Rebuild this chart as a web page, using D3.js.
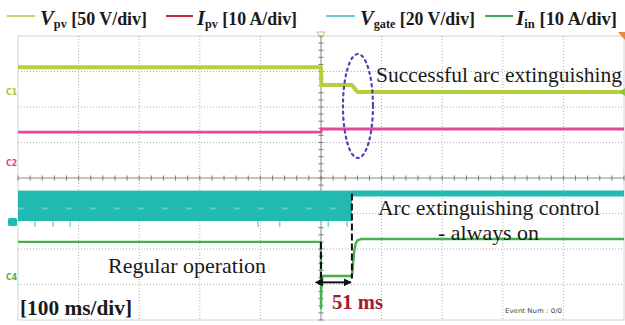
<!DOCTYPE html>
<html>
<head>
<meta charset="utf-8">
<script src="https://cdn.jsdelivr.net/npm/d3@7/dist/d3.min.js"></script>
<style>
  html, body { margin: 0; padding: 0; background: #fff; }
  svg { display: block; }
  .serif { font-family: "Liberation Serif", "Times New Roman", serif; }
</style>
</head>
<body>
<svg id="scope" width="625" height="325"></svg>
<script>
// ---- Channel records (time in ms, trigger at 0) ----
const legendSymbols = ["V", "I", "V", "I"];
const legendSubs = ["pv", "pv", "gate", "in"];
const legendScales = ["[50 V/div]", "[10 A/div]", "[20 V/div]", "[10 A/div]"];

// PV voltage, V
const vpvTime = [-500, 0, 0.6, 51, 54, 58, 61, 500];
const vpvValue = [35, 35, 10, 10, 7, 2, 0, 0];

// PV current, A
const ipvTime = [-500, 0, 1, 500];
const ipvValue = [8.7, 8.7, 9.6, 9.6];

// Gate voltage, V: dense PWM until the arc is extinguished, then held high
const gatePwmStart = -500;
const gatePwmEnd = 51;
const gateLow = 0;
const gateHigh = 16;
const gateHoldTime = [51, 500];
const gateHoldValue = [16, 16];
const gateGlitchTimes = [-472, -442, -414, -104, -68, 12, 43];

// Inverter input current, A
const iinTime = [-500, -0.3, 0, 0.6, 2.5, 51, 52, 53.5, 55, 57, 60, 66, 500];
const iinValue = [9.9, 9.9, -8.7, -3, 0.3, 0.3, 1.5, 5, 7.5, 9.3, 10.3, 10.7, 10.7];

// Timing annotation
const extinguishStart = 0;
const extinguishEnd = 51;
const extinguishLabel = "51 ms";

// ---- Scope geometry ----
const svg = d3.select("#scope");
const pL = 18, pR = 624, pT = 36, pB = 320;
const x = d3.scaleLinear().domain([-500, 500]).range([pL, pR]);
const yDiv = d3.scaleLinear().domain([-4, 4]).range([pB, pT]);

// channel ground offsets (div) and scale per division
const ch = {
  vpv:  { offset: 2.42,  perDiv: 50 },
  ipv:  { offset: 0.42,  perDiv: 10 },
  gate: { offset: -1.24, perDiv: 20 },
  iin:  { offset: -2.79, perDiv: 10 }
};
const yOf = (c) => (v) => yDiv(ch[c].offset + v / ch[c].perDiv);

// ---- Graticule ----
const grid = svg.append("g");
grid.append("rect")
  .attr("x", pL).attr("y", pT)
  .attr("width", pR - pL).attr("height", pB - pT)
  .attr("fill", "none").attr("stroke", "#d4d4d4").attr("stroke-width", 1);

d3.range(-400, 500, 100).filter(t => t !== 0).forEach(t => {
  grid.append("line")
    .attr("x1", x(t)).attr("x2", x(t)).attr("y1", pT).attr("y2", pB)
    .attr("stroke", "#b0b0b0").attr("stroke-width", 1).attr("stroke-dasharray", "1,2");
});
d3.range(-3, 4, 1).filter(d => d !== 0).forEach(d => {
  grid.append("line")
    .attr("x1", pL).attr("x2", pR).attr("y1", yDiv(d)).attr("y2", yDiv(d))
    .attr("stroke", "#b0b0b0").attr("stroke-width", 1).attr("stroke-dasharray", "1,2");
});

// centre axes with minor ticks
grid.append("line")
  .attr("x1", pL).attr("x2", pR).attr("y1", yDiv(0)).attr("y2", yDiv(0))
  .attr("stroke", "#8a8a8a").attr("stroke-width", 1);
grid.append("line")
  .attr("x1", x(0)).attr("x2", x(0)).attr("y1", pT).attr("y2", pB)
  .attr("stroke", "#8a8a8a").attr("stroke-width", 1);
d3.range(-500, 501, 20).forEach(t => {
  grid.append("line")
    .attr("x1", x(t)).attr("x2", x(t)).attr("y1", yDiv(0) - 2.5).attr("y2", yDiv(0) + 2.5)
    .attr("stroke", "#7a7a7a").attr("stroke-width", 1);
});
d3.range(-4, 4.01, 0.2).forEach(d => {
  grid.append("line")
    .attr("x1", x(0) - 2.5).attr("x2", x(0) + 2.5).attr("y1", yDiv(d)).attr("y2", yDiv(d))
    .attr("stroke", "#7a7a7a").attr("stroke-width", 1);
});

// ---- Traces ----
const colVpv = "#b3d13c", colIpv = "#e4489a", colGate = "#21b9b2", colIin = "#45b04e";
const lineOf = (c) => d3.line().x(d => x(d[0])).y(d => yOf(c)(d[1]));

// gate PWM block
const yG = yOf("gate");
svg.append("rect")
  .attr("x", x(gatePwmStart)).attr("y", yG(gateHigh) - 3)
  .attr("width", x(gatePwmEnd) - x(gatePwmStart))
  .attr("height", yG(gateLow) - yG(gateHigh) + 2)
  .attr("fill", colGate);
svg.append("line")
  .attr("x1", x(gatePwmStart)).attr("x2", x(gatePwmEnd))
  .attr("y1", yDiv(-0.86)).attr("y2", yDiv(-0.86))
  .attr("stroke", "#ffffff").attr("stroke-opacity", 0.28)
  .attr("stroke-width", 2).attr("stroke-dasharray", "6,18");
gateGlitchTimes.forEach(t => {
  svg.append("line")
    .attr("x1", x(t)).attr("x2", x(t))
    .attr("y1", yG(gateLow) - 1).attr("y2", yG(gateLow) + 5)
    .attr("stroke", "#7fd6d2").attr("stroke-width", 1.5);
});
svg.append("path")
  .datum(d3.zip(gateHoldTime, gateHoldValue))
  .attr("d", lineOf("gate"))
  .attr("fill", "none").attr("stroke", colGate).attr("stroke-width", 6);

svg.append("path")
  .datum(d3.zip(iinTime, iinValue))
  .attr("d", lineOf("iin"))
  .attr("fill", "none").attr("stroke", colIin).attr("stroke-width", 2.4)
  .attr("stroke-linejoin", "round");

svg.append("path")
  .datum(d3.zip(ipvTime, ipvValue))
  .attr("d", lineOf("ipv"))
  .attr("fill", "none").attr("stroke", colIpv).attr("stroke-width", 2.8);

svg.append("path")
  .datum(d3.zip(vpvTime, vpvValue))
  .attr("d", lineOf("vpv"))
  .attr("fill", "none").attr("stroke", colVpv).attr("stroke-width", 4)
  .attr("stroke-linejoin", "round");

// ---- Channel markers on the left ----
const mk = svg.append("g").attr("font-family", "DejaVu Sans, sans-serif")
  .attr("font-size", 8).attr("font-weight", "bold");
[["C1", "vpv", "#9cc43a"], ["C2", "ipv", "#e0408f"], ["C4", "iin", "#4cb050"]].forEach(([lab, c, col]) => {
  mk.append("text").attr("x", 6).attr("y", yOf(c)(0) + 3)
    .attr("fill", col).attr("textLength", 11).attr("lengthAdjust", "spacingAndGlyphs").text(lab);
});
mk.append("rect").attr("x", 8).attr("y", yG(0) - 4).attr("width", 9).attr("height", 8)
  .attr("rx", 1.5).attr("fill", colGate);

// trigger markers
svg.append("path")
  .attr("d", `M${x(0) - 4},${pT - 4} L${x(0) + 4},${pT - 4} L${x(0)},${pT + 3} Z`)
  .attr("fill", "none").attr("stroke", "#b8c47a").attr("stroke-width", 1);
svg.append("path")
  .attr("d", `M${pR - 6},${pT - 4} L${pR + 1},${pT - 4} L${pR + 1},${pT + 4} Z`)
  .attr("fill", "#e8893a");
svg.append("path")
  .attr("d", `M${pR + 1},${yOf("vpv")(0) - 4} L${pR + 1},${yOf("vpv")(0) + 4} L${pR - 5},${yOf("vpv")(0)} Z`)
  .attr("fill", "#8cc43a");

// ---- Annotations ----
// dotted ellipse round the voltage step
svg.append("ellipse")
  .attr("cx", x(61)).attr("cy", 106).attr("rx", 15).attr("ry", 52)
  .attr("fill", "none").attr("stroke", "#5b3fb0").attr("stroke-width", 2.2)
  .attr("stroke-dasharray", "2.2,4").attr("stroke-linecap", "round");

// dashed markers around the extinguishing interval
const yIin = yOf("iin");
svg.append("line")
  .attr("x1", x(extinguishStart)).attr("x2", x(extinguishStart))
  .attr("y1", yIin(9.9)).attr("y2", yIin(-0.4))
  .attr("stroke", "#111").attr("stroke-width", 2).attr("stroke-dasharray", "7,3");
svg.append("line")
  .attr("x1", x(extinguishEnd)).attr("x2", x(extinguishEnd))
  .attr("y1", yG(gateHigh)).attr("y2", yIin(-0.4))
  .attr("stroke", "#111").attr("stroke-width", 2).attr("stroke-dasharray", "7,3");

const defs = svg.append("defs");
["s", "e"].forEach(id => {
  defs.append("marker").attr("id", "arr-" + id)
    .attr("viewBox", "0 0 10 10").attr("refX", id === "e" ? 9 : 1).attr("refY", 5)
    .attr("markerWidth", 4).attr("markerHeight", 4).attr("orient", "auto-start-reverse")
    .attr("markerUnits", "strokeWidth")
    .append("path").attr("d", "M0,0 L10,5 L0,10 Z").attr("fill", "#111");
});
svg.append("line")
  .attr("x1", x(extinguishStart) + 1).attr("x2", x(extinguishEnd) - 1)
  .attr("y1", yIin(-1.5)).attr("y2", yIin(-1.5))
  .attr("stroke", "#111").attr("stroke-width", 2)
  .attr("marker-start", "url(#arr-s)").attr("marker-end", "url(#arr-e)");

svg.append("text").attr("class", "serif")
  .attr("x", 332).attr("y", 309).attr("font-size", 20).attr("font-weight", "bold")
  .attr("fill", "#a11c2e").attr("textLength", 51).attr("lengthAdjust", "spacingAndGlyphs")
  .text(extinguishLabel);

const note = (txt, x0, y0, w, size, weight) => svg.append("text").attr("class", "serif")
  .attr("x", x0).attr("y", y0).attr("font-size", size).attr("font-weight", weight || "normal")
  .attr("fill", "#1a1a1a").attr("textLength", w).attr("lengthAdjust", "spacingAndGlyphs")
  .text(txt);
note("Successful arc extinguishing", 376, 82, 246, 21);
note("Arc extinguishing control", 378, 215, 222, 21);
note("- always on", 438, 240, 101, 21);
note("Regular operation", 108, 273, 158, 21);
note("[100 ms/div]", 20, 315, 112, 20, "bold");

svg.append("text").attr("x", 505).attr("y", 313)
  .attr("font-family", "DejaVu Sans, sans-serif").attr("font-size", 6.5)
  .attr("fill", "#444").attr("textLength", 57).attr("lengthAdjust", "spacingAndGlyphs")
  .text("Event Num : 0/0");

// ---- Legend ----
const legendColors = ["#c3d86a", "#c3283e", "#6cc8d6", "#3aa85a"];
const legendLines = [[7, 35], [166, 193], [326, 355], [485, 513]];
const legendText = [[40, 107], [197, 100], [360, 115], [516, 101]];
legendSymbols.forEach((s, i) => {
  svg.append("line")
    .attr("x1", legendLines[i][0]).attr("x2", legendLines[i][1])
    .attr("y1", 16).attr("y2", 16)
    .attr("stroke", legendColors[i]).attr("stroke-width", 2);
  const t = svg.append("text").attr("class", "serif")
    .attr("x", legendText[i][0]).attr("y", 25)
    .attr("fill", "#1a1a1a").attr("font-weight", "bold")
    .attr("textLength", legendText[i][1]).attr("lengthAdjust", "spacingAndGlyphs");
  t.append("tspan").attr("font-size", 22).attr("font-style", "italic").text(s);
  t.append("tspan").attr("font-size", 13).attr("dy", 3).text(legendSubs[i]);
  t.append("tspan").attr("font-size", 19).attr("dy", -3).text(" " + legendScales[i]);
});
</script>
</body>
</html>
